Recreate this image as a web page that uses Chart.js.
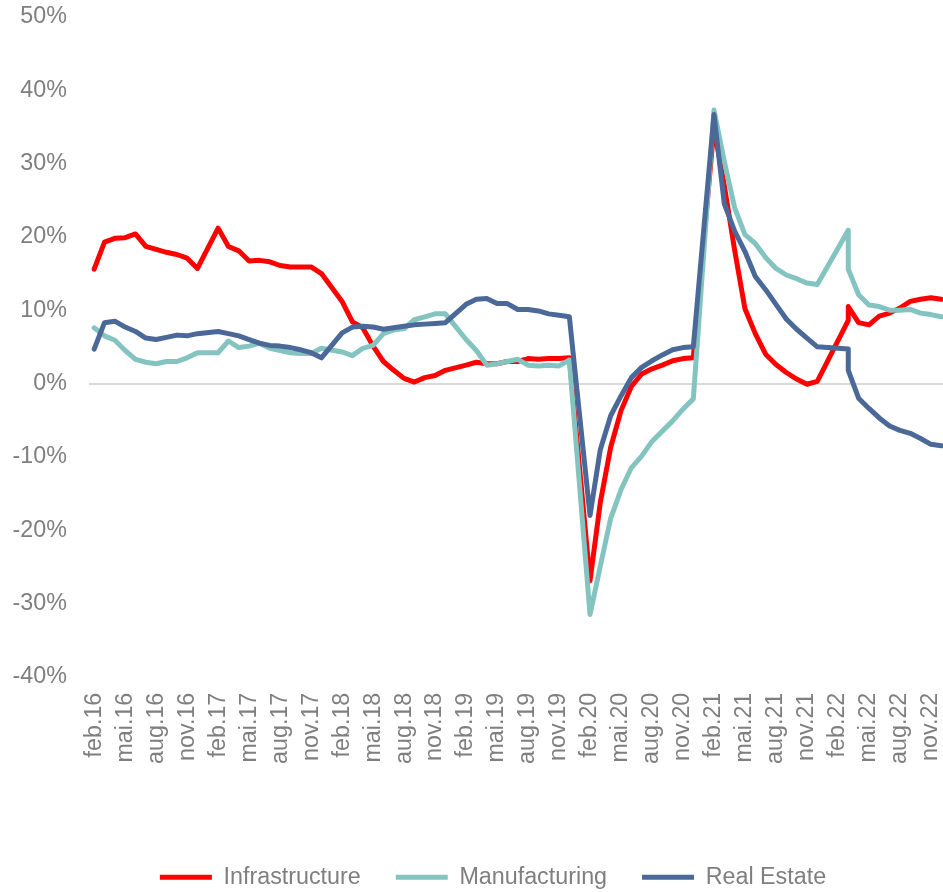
<!DOCTYPE html>
<html>
<head>
<meta charset="utf-8">
<title>Fixed asset investment, YTD growth</title>
<script src="https://cdn.jsdelivr.net/npm/chart.js@4.4.1/dist/chart.umd.min.js"></script>
<style>
  html, body { margin: 0; padding: 0; background: #fff; }
  #wrap { width: 943px; height: 892px; position: relative; }
</style>
</head>
<body>
<div id="wrap"><canvas id="chartFai"></canvas></div>
<script>
// months of each reading (January is folded into February, so it is missing).
// the Jan-Feb 2022 reading sits on the March slot in the source chart.
const dates = [
    '2016-02','2016-03','2016-04','2016-05','2016-06','2016-07','2016-08','2016-09','2016-10','2016-11','2016-12',
    '2017-02','2017-03','2017-04','2017-05','2017-06','2017-07','2017-08','2017-09','2017-10','2017-11','2017-12',
    '2018-02','2018-03','2018-04','2018-05','2018-06','2018-07','2018-08','2018-09','2018-10','2018-11','2018-12',
    '2019-02','2019-03','2019-04','2019-05','2019-06','2019-07','2019-08','2019-09','2019-10','2019-11','2019-12',
    '2020-02','2020-03','2020-04','2020-05','2020-06','2020-07','2020-08','2020-09','2020-10','2020-11','2020-12',
    '2021-02','2021-03','2021-04','2021-05','2021-06','2021-07','2021-08','2021-09','2021-10','2021-11','2021-12',
    '2022-03','2022-03','2022-04','2022-05','2022-06','2022-07','2022-08','2022-09','2022-10','2022-11','2022-12'
];

const infrastructure = [
    15.6, 19.3, 19.8, 19.9, 20.4, 18.7, 18.3, 17.9, 17.6, 17.1, 15.7,
    21.2, 18.7, 18.1, 16.7, 16.8, 16.6, 16.1, 15.9, 15.9, 15.9, 15.0,
    11.2, 8.4, 7.6, 5.1, 3.0, 1.8, 0.7, 0.2, 0.8, 1.1, 1.8,
    2.5, 2.9, 2.7, 2.7, 3.0, 3.0, 3.4, 3.3, 3.4, 3.4, 3.5,
    -26.9, -16.2, -8.7, -3.7, -0.4, 1.3, 2.0, 2.5, 3.1, 3.4, 3.5,
    35.0, 27.0, 18.2, 10.2, 6.8, 4.0, 2.6, 1.5, 0.6, -0.1, 0.3,
    8.6, 10.5, 8.3, 8.0, 9.2, 9.6, 10.3, 11.2, 11.5, 11.7, 11.5
];

const manufacturing = [
    7.6, 6.5, 5.9, 4.5, 3.3, 2.9, 2.7, 3.0, 3.0, 3.5, 4.2,
    4.2, 5.8, 4.9, 5.1, 5.5, 4.8, 4.5, 4.2, 4.1, 4.1, 4.8,
    4.3, 3.8, 4.8, 5.2, 6.8, 7.3, 7.5, 8.7, 9.1, 9.5, 9.5,
    6.0, 4.5, 2.5, 2.7, 3.0, 3.3, 2.5, 2.4, 2.5, 2.4, 3.2,
    -31.5, -24.9, -18.4, -14.5, -11.5, -9.9, -7.9, -6.5, -5.1, -3.5, -2.1,
    37.3, 30.3, 24.0, 20.3, 19.1, 17.2, 15.7, 14.8, 14.3, 13.7, 13.5,
    20.9, 15.6, 12.1, 10.7, 10.5, 10.0, 10.0, 10.1, 9.6, 9.4, 9.1
];

const realEstate = [
    4.7, 8.3, 8.5, 7.7, 7.1, 6.2, 6.0, 6.3, 6.6, 6.5, 6.8,
    7.1, 6.8, 6.5, 6.0, 5.5, 5.2, 5.1, 4.9, 4.6, 4.2, 3.5,
    6.9, 7.7, 7.8, 7.7, 7.4, 7.6, 7.8, 8.0, 8.1, 8.2, 8.3,
    10.8, 11.5, 11.6, 10.9, 10.9, 10.1, 10.1, 9.9, 9.5, 9.3, 9.1,
    -18.0, -9.0, -4.4, -1.7, 0.8, 2.2, 3.1, 3.9, 4.6, 4.9, 5.0,
    36.7, 24.5, 20.8, 18.0, 14.6, 12.8, 10.8, 8.8, 7.4, 6.2, 5.0,
    4.7, 1.8, -2.0, -3.4, -4.7, -5.8, -6.4, -6.8, -7.5, -8.3, -8.5
];

const monthNames = ['jan', 'feb', 'mar', 'apr', 'mai', 'jun', 'jul', 'aug', 'sep', 'okt', 'nov', 'des'];
const tickMonths = [0, 3, 6, 9, 12, 15, 18, 21, 24, 27, 30, 33, 36, 39, 42, 45, 48, 51, 54, 57, 60, 63, 66, 69, 72, 75, 78, 81];
const yTicks = [-40, -30, -20, -10, 0, 10, 20, 30, 40, 50];

const grey = '#7f7f7f';
const fontFamily = "'Liberation Sans', Arial, sans-serif";

// month number counted from feb.16
function monthIndex(d) {
    const parts = d.split('-').map(Number);
    return (parts[0] - 2016) * 12 + (parts[1] - 2);
}

function tickLabel(i) {
    const n = i + 1;
    return monthNames[n % 12] + '.' + (16 + Math.floor(n / 12));
}

function toPoints(values) {
    return dates.map((d, k) => ({ x: monthIndex(d), y: values[k] }));
}

function serie(label, values, color, order) {
    return {
        label: label,
        data: toPoints(values),
        borderColor: color,
        backgroundColor: color,
        borderWidth: 5,
        borderCapStyle: 'round',
        borderJoinStyle: 'round',
        pointRadius: 0,
        pointHoverRadius: 0,
        tension: 0,
        order: order
    };
}

// legend sits a little right of the canvas centre in the original
const legendShift = {
    id: 'legendShift',
    afterLayout(chart) {
        chart.legend.left += 15;
        chart.legend.right += 15;
    }
};

const ctx = document.getElementById('chartFai').getContext('2d');

new Chart(ctx, {
    type: 'line',
    data: {
        datasets: [
            serie('Infrastructure', infrastructure, '#ff0000', 3),
            serie('Manufacturing', manufacturing, '#84c4c0', 2),
            serie('Real Estate', realEstate, '#4a6898', 1)
        ]
    },
    plugins: [legendShift],
    options: {
        responsive: true,
        maintainAspectRatio: false,
        animation: false,
        layout: {
            padding: { left: 13, right: 0, top: 17, bottom: -7 }
        },
        plugins: {
            tooltip: { enabled: false },
            legend: {
                position: 'bottom',
                labels: {
                    sort: (a, b) => a.datasetIndex - b.datasetIndex,
                    usePointStyle: true,
                    pointStyle: 'line',
                    pointStyleWidth: 52,
                    boxHeight: 5,
                    padding: 35,
                    color: grey,
                    font: { family: fontFamily, size: 23.3 }
                }
            }
        },
        scales: {
            x: {
                type: 'linear',
                min: -0.5,
                max: 82.17,
                afterBuildTicks: (scale) => {
                    scale.ticks = tickMonths.map(v => ({ value: v }));
                },
                afterFit: (scale) => {
                    scale.height = 154;
                    scale.paddingLeft = 0;
                    scale.paddingRight = 0;
                },
                grid: { display: false, drawTicks: false },
                border: { display: false },
                ticks: {
                    autoSkip: false,
                    maxRotation: 90,
                    minRotation: 90,
                    padding: 16,
                    color: grey,
                    font: { family: fontFamily, size: 23.3 },
                    callback: (v) => tickLabel(v)
                }
            },
            y: {
                min: -40,
                max: 50,
                afterBuildTicks: (scale) => {
                    scale.ticks = yTicks.map(v => ({ value: v }));
                },
                afterFit: (scale) => {
                    scale.width = 76;
                    scale.paddingTop = 0;
                    scale.paddingBottom = 0;
                },
                grid: {
                    drawTicks: false,
                    lineWidth: 2,
                    color: (c) => c.tick && c.tick.value === 0 ? '#d9d9d9' : 'rgba(0,0,0,0)'
                },
                border: { display: false },
                ticks: {
                    padding: 22,
                    color: grey,
                    font: { family: fontFamily, size: 23.3 },
                    callback: (v) => v + '%'
                }
            }
        }
    }
});
</script>
</body>
</html>
